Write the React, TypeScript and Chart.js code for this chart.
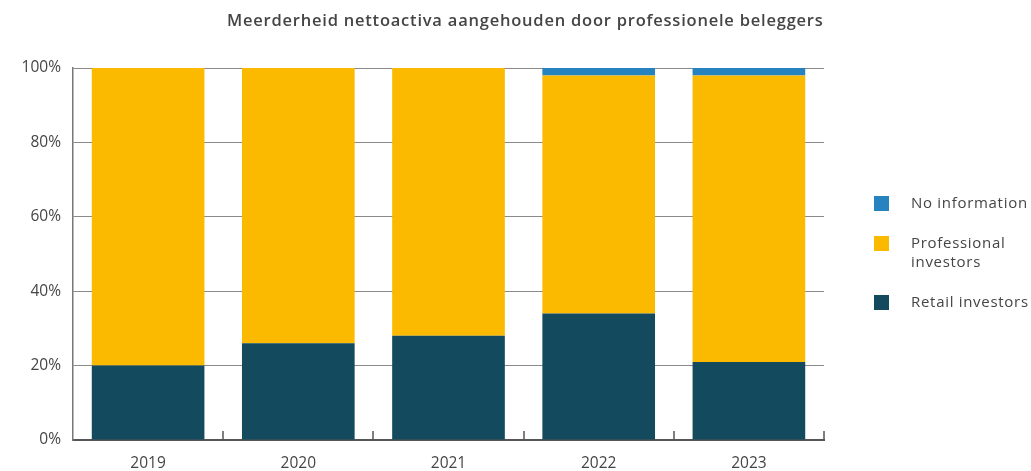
import React, { useEffect, useRef } from 'react';
import Chart from 'chart.js/auto';

const categories = ['2019', '2020', '2021', '2022', '2023'];
const retailInvestors = [20, 26, 28, 34, 21];
const professionalInvestors = [80, 74, 72, 64, 77];
const noInformation = [0, 0, 0, 2, 2];
const yTicks = [0, 20, 40, 60, 80, 100];

const title = 'Meerderheid nettoactiva aangehouden door professionele beleggers';
const legendItems = [
  { label: ['No information'], color: '#2783bf' },
  { label: ['Professional', 'investors'], color: '#fbb900' },
  { label: ['Retail investors'], color: '#134a5e' },
];

const FONT = '"Open Sans", sans-serif';
const TEXT = '#454545';

const upTicks = {
  id: 'upTicks',
  afterDatasetsDraw(chart: any) {
    const { ctx, chartArea, scales } = chart;
    const x = scales.x;
    ctx.save();
    ctx.strokeStyle = '#555';
    ctx.lineWidth = 1.5;
    for (let i = 0; i < categories.length; i++) {
      const px = Math.round(x.getPixelForValue(i + 0.5));
      ctx.beginPath();
      ctx.moveTo(px, chartArea.bottom);
      ctx.lineTo(px, chartArea.bottom - 9);
      ctx.stroke();
    }
    ctx.restore();
  },
};

export default function App() {
  const ref = useRef<HTMLCanvasElement>(null);
  useEffect(() => {
    document.body.style.margin = '0';
    const chart = new Chart(ref.current!, {
      type: 'bar',
      data: {
        labels: categories,
        datasets: [
          { label: 'Retail investors', data: retailInvestors, backgroundColor: '#134a5e' },
          { label: 'Professional investors', data: professionalInvestors, backgroundColor: '#fbb900' },
          { label: 'No information', data: noInformation, backgroundColor: '#2783bf' },
        ],
      },
      options: {
        animation: false,
        responsive: true,
        maintainAspectRatio: false,
        datasets: { bar: { barPercentage: 0.75, categoryPercentage: 1 } },
        layout: { padding: { top: 68, right: 207, left: 0, bottom: 0 } },
        plugins: { legend: { display: false }, title: { display: false }, tooltip: { enabled: false } },
        scales: {
          x: {
            stacked: true,
            grid: { display: false, drawTicks: false },
            border: { display: true, color: '#555', width: 2 },
            ticks: { color: TEXT, font: { family: FONT, size: 15.5 }, padding: 14 },
            afterFit: (s: any) => { s.height = 31; },
          },
          y: {
            stacked: true,
            min: 0,
            max: 100,
            afterBuildTicks: (s: any) => { s.ticks = yTicks.map((v) => ({ value: v })); },
            ticks: { color: TEXT, font: { family: FONT, size: 15.5 }, padding: 12, callback: (v: any) => v + '%' },
            grid: { color: '#8a8a8a', lineWidth: 1, drawTicks: false },
            border: { display: true, color: '#777', width: 1.5 },
            afterFit: (s: any) => { s.width = 73; },
          },
        },
      },
      plugins: [upTicks],
    });
    return () => chart.destroy();
  }, []);

  return (
    <div style={{ position: 'relative', width: 1031, height: 471, fontFamily: FONT, color: TEXT }}>
      <canvas ref={ref} />
      <div style={{ position: 'absolute', left: 227, top: 8, fontSize: 16.5, fontWeight: 600, letterSpacing: 0.78, whiteSpace: 'nowrap' }}>
        {title}
      </div>
      {legendItems.map((item, i) => {
        const tops = [195, 235, 294];
        return (
          <div key={i} style={{ position: 'absolute', left: 874, top: tops[i], display: 'flex', alignItems: 'flex-start' }}>
            <div style={{ width: 15, height: 15, background: item.color, marginTop: 1 }} />
            <div style={{ marginLeft: 22, fontSize: 15, lineHeight: '19px', letterSpacing: 0.7, marginTop: -2, whiteSpace: 'nowrap' }}>
              {item.label.map((l, j) => (<div key={j}>{l}</div>))}
            </div>
          </div>
        );
      })}
    </div>
  );
}
